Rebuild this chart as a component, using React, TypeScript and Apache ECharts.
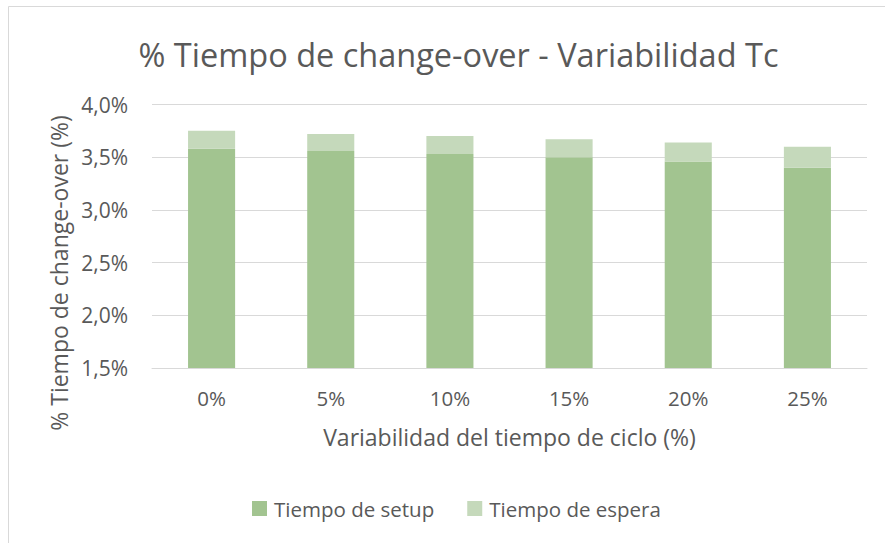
import React, { useEffect, useRef } from "react";
import * as echarts from "echarts";

const categories = ["0%", "5%", "10%", "15%", "20%", "25%"];
const setupValues = [3.58, 3.56, 3.53, 3.5, 3.46, 3.4];
const esperaValues = [0.17, 0.16, 0.17, 0.17, 0.18, 0.2];
const titleText = "% Tiempo de change-over - Variabilidad Tc";
const yAxisTitle = "% Tiempo de change-over (%)";
const xAxisTitle = "Variabilidad del tiempo de ciclo (%)";
const seriesNames = ["Tiempo de setup", "Tiempo de espera"];

const FONT = "Open Sans";
const TEXT = "#595959";

export default function App() {
  const ref = useRef<HTMLDivElement>(null);
  useEffect(() => {
    document.body.style.margin = "0";
    const chart = echarts.init(ref.current!, null, { renderer: "svg" });
    chart.setOption({
      animation: false,
      backgroundColor: "#ffffff",
      textStyle: { fontFamily: FONT, color: TEXT },
      title: {
        text: titleText,
        left: 453.5,
        top: 49,
        textAlign: "center",
        textVerticalAlign: "middle",
        textStyle: { fontFamily: FONT, fontSize: 32.5, fontWeight: "normal", color: TEXT },
      },
      graphic: [
        {
          type: "polyline",
          shape: { points: [[8.5, 543], [8.5, 6.5], [885, 6.5]] },
          style: { stroke: "#d9d9d9", fill: "none", lineWidth: 1 },
          silent: true,
        },
        {
          type: "text",
          x: 59,
          y: 273,
          rotation: Math.PI / 2,
          style: {
            text: yAxisTitle,
            fontFamily: FONT,
            fontSize: 23,
            fill: TEXT,
            align: "center",
            verticalAlign: "middle",
          },
        },
      ],
      legend: {
        data: seriesNames,
        left: 247,
        top: 493,
        itemWidth: 15,
        itemHeight: 15,
        itemGap: 33,
        icon: "rect",
        textStyle: { fontFamily: FONT, fontSize: 20.5, color: TEXT, padding: [0, 0, 0, 2] },
      },
      grid: { left: 152, right: 18, top: 104.5, bottom: 175, containLabel: false },
      xAxis: {
        type: "category",
        data: categories,
        axisTick: { show: false },
        axisLine: { lineStyle: { color: "#d9d9d9", width: 1 } },
        axisLabel: { fontFamily: FONT, fontSize: 20.5, color: TEXT, margin: 19 },
        name: xAxisTitle,
        nameLocation: "middle",
        nameGap: 57,
        nameTextStyle: { fontFamily: FONT, fontSize: 23, color: TEXT },
      },
      yAxis: {
        type: "value",
        min: 1.5,
        max: 4.0,
        interval: 0.5,
        axisLine: { show: false },
        axisTick: { show: false },
        splitLine: { lineStyle: { color: "#d9d9d9", width: 1 } },
        axisLabel: {
          fontFamily: FONT,
          fontSize: 21,
          color: TEXT,
          margin: 24,
          formatter: (v: number) => v.toFixed(1).replace(".", ",") + "%",
        },
      },
      series: [
        {
          name: seriesNames[0],
          type: "bar",
          stack: "total",
          data: setupValues,
          barWidth: "39.5%",
          itemStyle: { color: "#a2c490" },
        },
        {
          name: seriesNames[1],
          type: "bar",
          stack: "total",
          data: esperaValues,
          barWidth: "39.5%",
          itemStyle: { color: "#c5d9bb" },
        },
      ],
    });
    return () => chart.dispose();
  }, []);
  return <div ref={ref} style={{ width: 885, height: 543 }} />;
}
